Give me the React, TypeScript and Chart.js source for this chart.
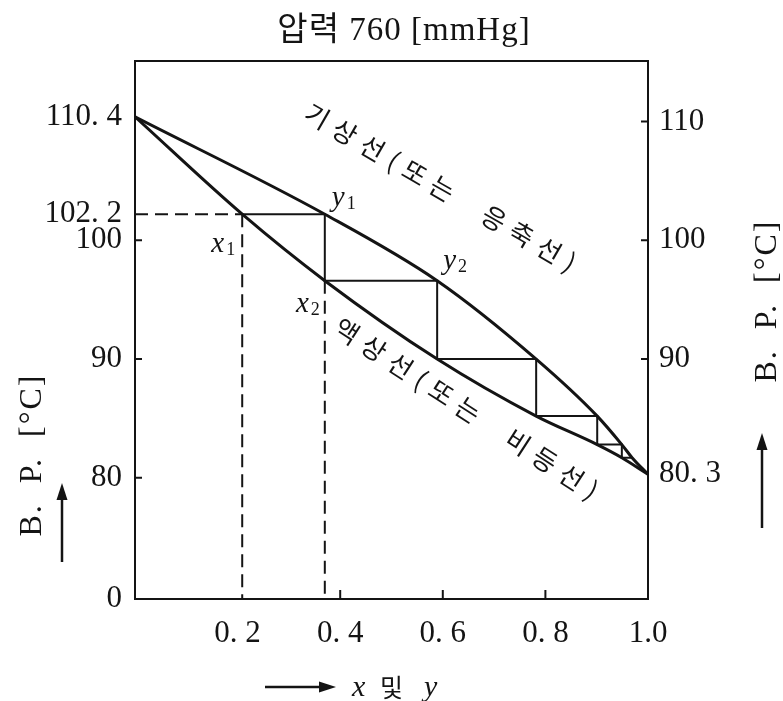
import React, { useEffect, useRef } from "react";
import { Chart, registerables } from "chart.js";

Chart.register(...registerables);

// ---------------- data ----------------
const TITLE = "압력 760 [mmHg]";
const Y_BREAK = 69.8; // bottom of the (broken) temperature axis, labelled "0"
const Y_TOP = 115.1;

// liquid (bubble-point) line: x vs T
const liquidX = [0, 0.209, 0.37, 0.589, 0.782, 0.901, 0.949, 1.0];
const liquidT = [110.4, 102.2, 96.6, 90.0, 85.2, 82.8, 81.7, 80.3];
// vapour (dew-point) line: y vs T
const vaporX = [0, 0.37, 0.589, 0.782, 0.901, 0.949, 0.969, 1.0];
const vaporT = [110.4, 102.2, 96.6, 90.0, 85.2, 82.8, 81.7, 80.3];

// equilibrium stages (staircase)
const stageLiquidX = [0.209, 0.37, 0.589, 0.782, 0.901, 0.949];
const stageVaporX = [0.37, 0.589, 0.782, 0.901, 0.949, 0.969];
const stageT = [102.2, 96.6, 90.0, 85.2, 82.8, 81.7];

const xTickValues = [0.2, 0.4, 0.6, 0.8, 1.0];
const xTickLabels = ["0. 2", "0. 4", "0. 6", "0. 8", "1.0"];
const xInnerTicks = [0.4, 0.6, 0.8];

const yLeftTickValues = [Y_BREAK, 80, 90, 100, 102.2, 110.4];
const yLeftTickLabels = ["0", "80", "90", "100", "102. 2", "110. 4"];
const yLeftInnerTicks = [80, 90, 100];

const yRightTickValues = [80.3, 90, 100, 110];
const yRightTickLabels = ["80. 3", "90", "100", "110"];
const yRightInnerTicks = [90, 100, 110];

const vaporLabel = "기상선(또는  응축선)";
const liquidLabel = "액상선(또는  비등선)";
const yAxisTitle = "B.  P.  [°C]";
const xAxisTitleParts = ["x", "및", "y"];

// ---------------- styles ----------------
const INK = "#141414";
const SERIF = '"Liberation Serif", "Noto Sans CJK KR", serif';
const KR = '"Noto Sans CJK KR", "Noto Sans", sans-serif';

const pts = (xs: number[], ys: number[]) => xs.map((x, i) => ({ x, y: ys[i] }));

const stairs: { x: number; y: number }[] = [];
stageLiquidX.forEach((x, i) => {
  stairs.push({ x, y: stageT[i] });
  stairs.push({ x: stageVaporX[i], y: stageT[i] });
});

const dashH = [
  { x: 0, y: stageT[0] },
  { x: stageLiquidX[0], y: stageT[0] },
];
const dashV1 = [
  { x: stageLiquidX[0], y: stageT[0] },
  { x: stageLiquidX[0], y: Y_BREAK },
];
const dashV2 = [
  { x: stageLiquidX[1], y: stageT[1] },
  { x: stageLiquidX[1], y: Y_BREAK },
];

// annotation anchors (data coords) + pixel offsets
const curveLabels = [
  { text: vaporLabel, x: 0.357, y: 110.4, angle: 30 },
  { text: liquidLabel, x: 0.415, y: 92.3, angle: 33 },
];
const pointLabels = [
  { l: "x", s: "1", x: stageLiquidX[0], y: stageT[0], align: "right", dx: -7, dy: 38 },
  { l: "y", s: "1", x: stageVaporX[0], y: stageT[0], align: "left", dx: 7, dy: -8 },
  { l: "x", s: "2", x: stageLiquidX[1], y: stageT[1], align: "right", dx: -5, dy: 31 },
  { l: "y", s: "2", x: stageVaporX[1], y: stageT[1], align: "left", dx: 6, dy: -12 },
];

function arrow(ctx: CanvasRenderingContext2D, x1: number, y1: number, x2: number, y2: number) {
  const head = 17;
  const w = 5.5;
  const a = Math.atan2(y2 - y1, x2 - x1);
  const c = Math.cos(a);
  const s = Math.sin(a);
  ctx.beginPath();
  ctx.moveTo(x1, y1);
  ctx.lineTo(x2 - head * 0.8 * c, y2 - head * 0.8 * s);
  ctx.stroke();
  ctx.beginPath();
  ctx.moveTo(x2, y2);
  ctx.lineTo(x2 - head * c + w * s, y2 - head * s - w * c);
  ctx.lineTo(x2 - head * c - w * s, y2 - head * s + w * c);
  ctx.closePath();
  ctx.fill();
}

const overlay = {
  id: "overlay",
  afterDraw(chart: any) {
    const { ctx, chartArea: a, scales } = chart;
    const px = (v: number) => scales.x.getPixelForValue(v);
    const py = (v: number) => scales.y.getPixelForValue(v);
    ctx.save();
    ctx.strokeStyle = INK;
    ctx.fillStyle = INK;
    ctx.lineWidth = 2;

    // inner tick marks
    ctx.beginPath();
    yLeftInnerTicks.forEach((v) => {
      ctx.moveTo(a.left, py(v));
      ctx.lineTo(a.left + 7, py(v));
    });
    yRightInnerTicks.forEach((v) => {
      ctx.moveTo(a.right, py(v));
      ctx.lineTo(a.right - 7, py(v));
    });
    xInnerTicks.forEach((v) => {
      ctx.moveTo(px(v), a.bottom);
      ctx.lineTo(px(v), a.bottom - 9);
    });
    ctx.stroke();

    // title
    ctx.save();
    ctx.font = `33px ${SERIF}`;
    (ctx as any).letterSpacing = "1px";
    ctx.textAlign = "center";
    ctx.textBaseline = "middle";
    ctx.fillText(TITLE, 404, 31);
    ctx.restore();

    // axis titles (rotated)
    ctx.font = `32px ${SERIF}`;
    ctx.textAlign = "center";
    ctx.textBaseline = "middle";
    [
      [33, 456],
      [768, 302],
    ].forEach(([x, y]) => {
      ctx.save();
      ctx.translate(x, y);
      ctx.rotate(-Math.PI / 2);
      (ctx as any).letterSpacing = "2px";
      ctx.fillText(yAxisTitle, 1, 0);
      ctx.restore();
    });
    ctx.lineWidth = 2.5;
    arrow(ctx, 62, 562, 62, 483);
    arrow(ctx, 762, 528, 762, 433);
    arrow(ctx, 265, 687, 336, 687);

    // x axis title
    ctx.textAlign = "left";
    ctx.textBaseline = "alphabetic";
    ctx.font = `italic 30px ${SERIF}`;
    ctx.fillText(xAxisTitleParts[0], 352, 696);
    ctx.font = `25px ${KR}`;
    ctx.fillText(xAxisTitleParts[1], 380, 697);
    ctx.font = `italic 30px ${SERIF}`;
    ctx.fillText(xAxisTitleParts[2], 424, 696);

    // curve labels
    curveLabels.forEach((c) => {
      ctx.save();
      ctx.translate(px(c.x), py(c.y));
      ctx.rotate((c.angle * Math.PI) / 180);
      ctx.font = `26px ${KR}`;
      (ctx as any).letterSpacing = "8px";
      ctx.textAlign = "left";
      ctx.textBaseline = "middle";
      ctx.fillText(c.text, -13, 0);
      ctx.restore();
    });

    // point labels
    pointLabels.forEach((p) => {
      const bx = px(p.x) + p.dx;
      const by = py(p.y) + p.dy;
      ctx.font = `italic 29px ${SERIF}`;
      const w1 = ctx.measureText(p.l).width;
      ctx.font = `18px ${SERIF}`;
      const w2 = ctx.measureText(p.s).width;
      const total = w1 + 2 + w2;
      const left = p.align === "right" ? bx - total : bx;
      ctx.textAlign = "left";
      ctx.textBaseline = "alphabetic";
      ctx.font = `italic 29px ${SERIF}`;
      ctx.fillText(p.l, left, by);
      ctx.font = `18px ${SERIF}`;
      ctx.fillText(p.s, left + w1 + 2, by + 3);
    });
    ctx.restore();
  },
};

const bg = {
  id: "bg",
  beforeDraw(chart: any) {
    const { ctx, width, height } = chart;
    ctx.save();
    ctx.fillStyle = "#ffffff";
    ctx.fillRect(0, 0, width, height);
    ctx.restore();
  },
};

const tickFont = { family: SERIF, size: 31 };

export default function App() {
  const ref = useRef<HTMLCanvasElement>(null);
  useEffect(() => {
    document.body.style.margin = "0";
    const line = (data: any[], width: number, extra: any = {}) => ({
      type: "line",
      data,
      borderColor: INK,
      borderWidth: width,
      pointRadius: 0,
      fill: false,
      xAxisID: "x",
      yAxisID: "y",
      ...extra,
    });
    const chart = new Chart(ref.current as HTMLCanvasElement, {
      type: "line",
      data: {
        datasets: [
          line(pts(vaporX, vaporT), 3, { cubicInterpolationMode: "monotone" }),
          line(pts(liquidX, liquidT), 3, { cubicInterpolationMode: "monotone" }),
          line(stairs, 2, { tension: 0 }),
          line(dashH, 2, { borderDash: [13, 7] }),
          line(dashV1, 2, { borderDash: [13, 7] }),
          line(dashV2, 2, { borderDash: [13, 7] }),
        ] as any,
      },
      options: {
        responsive: false,
        animation: false,
        events: [],
        layout: { padding: 0 },
        plugins: {
          legend: { display: false },
          tooltip: { enabled: false },
          title: { display: false },
        },
        scales: {
          x: {
            type: "linear",
            position: "bottom",
            min: 0,
            max: 1,
            afterBuildTicks: (s: any) => {
              s.ticks = xTickValues.map((v) => ({ value: v }));
            },
            afterFit: (s: any) => {
              s.height = 102;
            },
            ticks: {
              autoSkip: false,
              maxRotation: 0,
              padding: 16,
              color: INK,
              font: tickFont,
              callback: (_v: any, i: number) => xTickLabels[i],
            },
            grid: { display: false, drawTicks: false },
            border: { display: true, color: INK, width: 2 },
          },
          xTop: {
            type: "linear",
            position: "top",
            min: 0,
            max: 1,
            afterFit: (s: any) => {
              s.height = 61;
            },
            ticks: { display: false },
            grid: { display: false, drawTicks: false },
            border: { display: true, color: INK, width: 2 },
          },
          y: {
            type: "linear",
            position: "left",
            min: Y_BREAK,
            max: Y_TOP,
            afterBuildTicks: (s: any) => {
              s.ticks = yLeftTickValues.map((v) => ({ value: v }));
            },
            afterFit: (s: any) => {
              s.width = 135;
            },
            ticks: {
              autoSkip: false,
              padding: 13,
              color: INK,
              font: tickFont,
              callback: (_v: any, i: number) => yLeftTickLabels[i],
            },
            grid: { display: false, drawTicks: false },
            border: { display: true, color: INK, width: 2 },
          },
          y2: {
            type: "linear",
            position: "right",
            min: Y_BREAK,
            max: Y_TOP,
            afterBuildTicks: (s: any) => {
              s.ticks = yRightTickValues.map((v) => ({ value: v }));
            },
            afterFit: (s: any) => {
              s.width = 135;
            },
            ticks: {
              autoSkip: false,
              padding: 11,
              color: INK,
              font: tickFont,
              callback: (_v: any, i: number) => yRightTickLabels[i],
            },
            grid: { display: false, drawTicks: false },
            border: { display: true, color: INK, width: 2 },
          },
        },
      } as any,
      plugins: [bg, overlay],
    });
    return () => chart.destroy();
  }, []);
  return (
    <canvas
      ref={ref}
      width={783}
      height={701}
      style={{ display: "block", width: 783, height: 701 }}
    />
  );
}
